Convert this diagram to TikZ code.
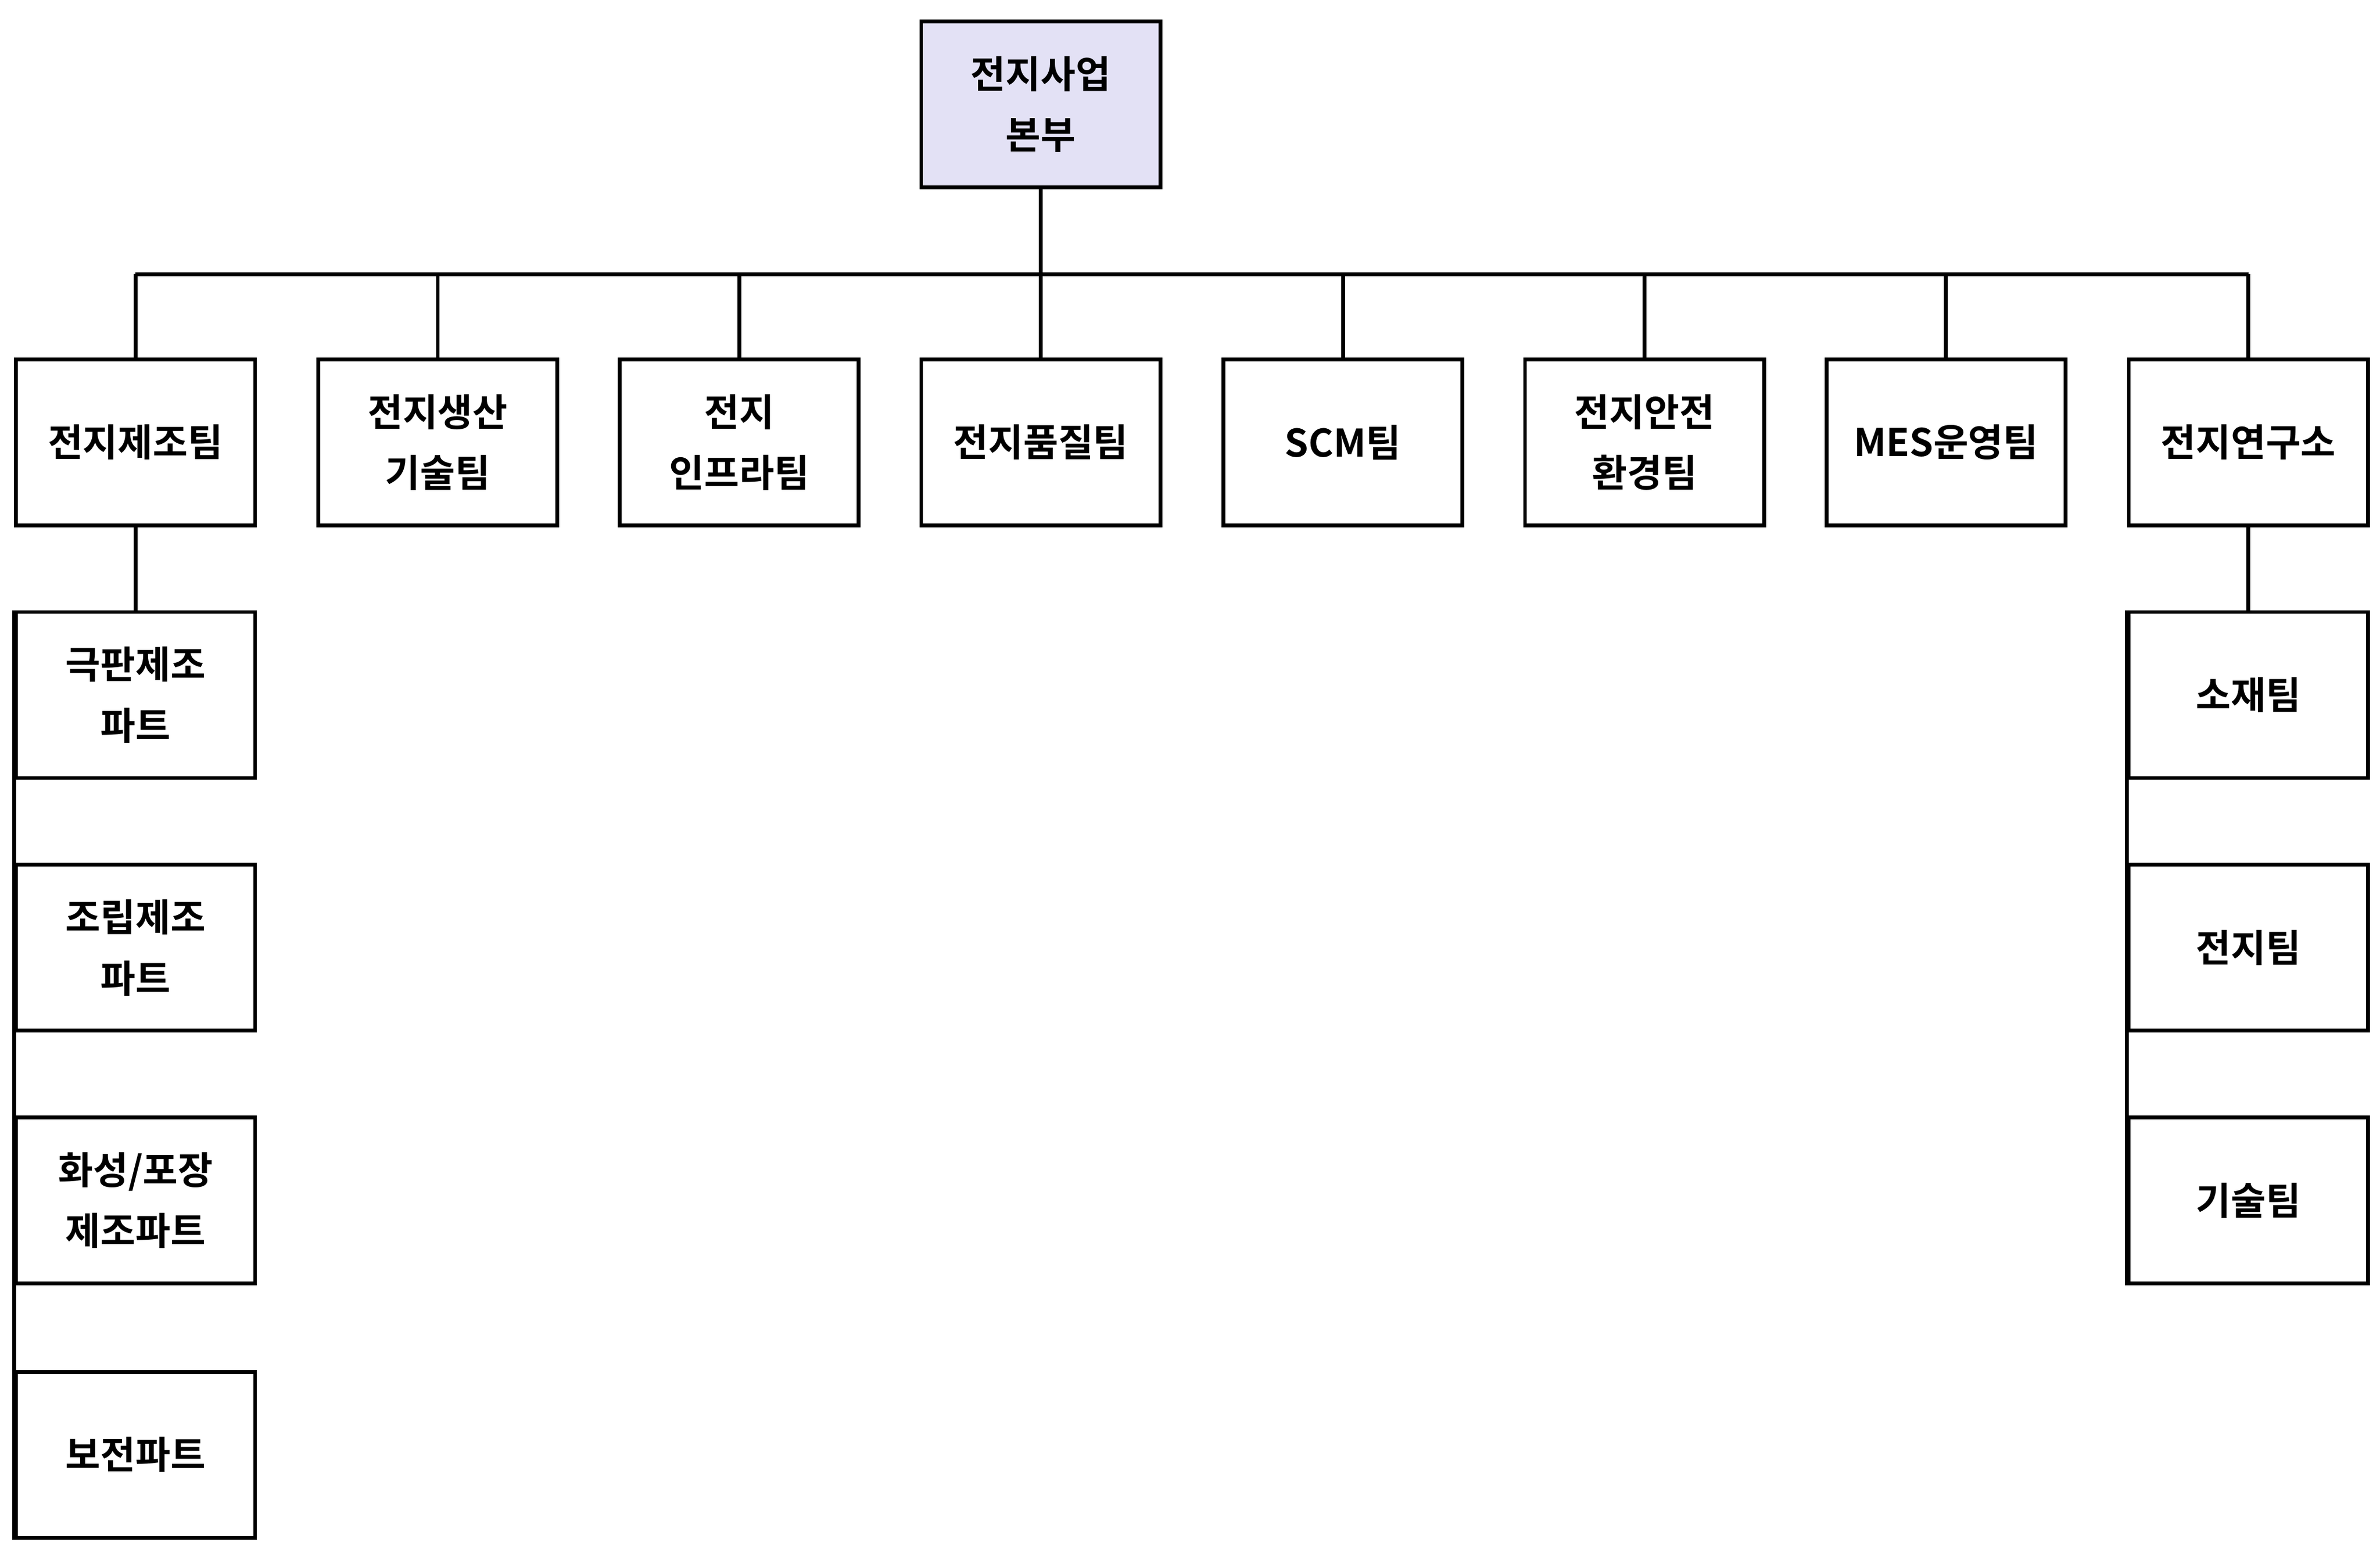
\documentclass[tikz,border=0pt]{standalone}
\usepackage{fontspec}
\setmainfont{Noto Sans CJK KR}[BoldFont={Noto Sans CJK KR Bold}]
\definecolor{topfill}{HTML}{E3E1F5}
\begin{document}
\begin{tikzpicture}[x=1pt,y=-1pt,
  box/.style={draw=black,line width=2.5pt,minimum width=157pt,minimum height=109pt,align=center,font=\fontsize{25}{40}\selectfont\bfseries,inner sep=0pt},
  ln/.style={line width=2.5pt}]
\useasboundingbox (0,0) rectangle (1563,1025);
\node[box,fill=topfill] (top) at (683.5,68.5) {전지사업\\본부};
\foreach \n/\x/\t in {a/89/{전지제조팀},b/287.5/{전지생산\\기술팀},c/485.5/{전지\\인프라팀},d/683.5/{전지품질팀},e/882/{SCM팀},f/1080/{전지안전\\환경팀},g/1278/{MES운영팀},h/1476.5/{전지연구소}}
  \node[box] (\n) at (\x,290.5) {\t};
\coordinate (bus) at (683.5,180);
\draw[ln] (top.south) -- (bus);
\foreach \n in {a,b,c,d,e,f,g,h} \draw[ln] (\n.north) -- (\n.north |- bus);
\draw[ln] (a.north |- bus) -- (h.north |- bus);
\node[box] (a1) at (89,456.5) {극판제조\\파트};
\node[box] (a2) at (89,622.5) {조립제조\\파트};
\node[box] (a3) at (89,788.5) {화성/포장\\제조파트};
\node[box] (a4) at (89,955.5) {보전파트};
\draw[ln] (a.south) -- (a1.north);
\draw[ln] (a1.north west) -- (a4.south west);
\node[box] (h1) at (1476.5,456.5) {소재팀};
\node[box] (h2) at (1476.5,622.5) {전지팀};
\node[box] (h3) at (1476.5,788.5) {기술팀};
\draw[ln] (h.south) -- (h1.north);
\draw[ln] (h1.north west) -- (h3.south west);
\end{tikzpicture}
\end{document}
